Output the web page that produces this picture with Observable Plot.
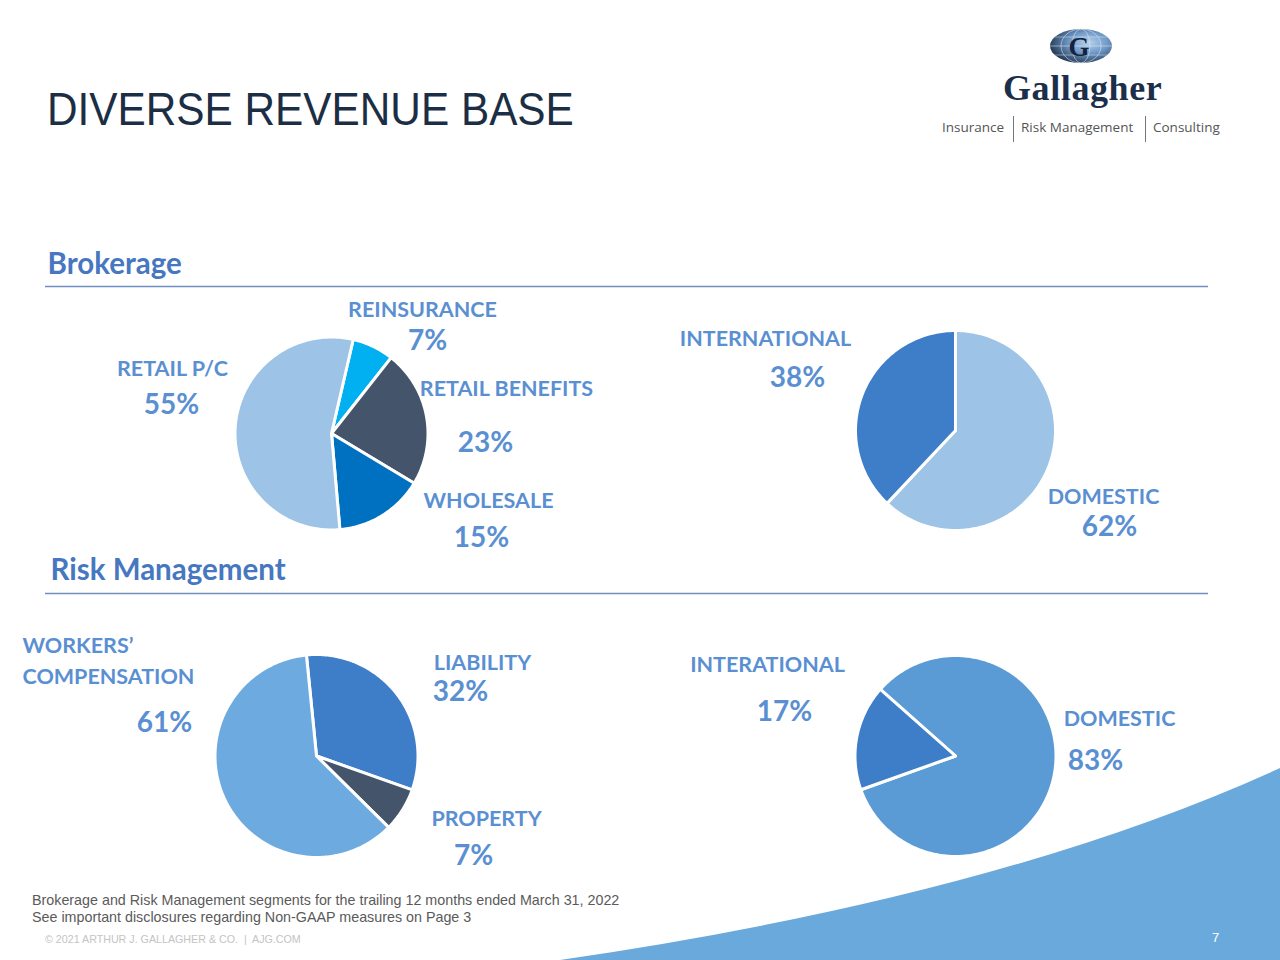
<!DOCTYPE html>
<html>
<head>
<meta charset="utf-8">
<script src="https://cdn.jsdelivr.net/npm/d3@7"></script>
<script src="https://cdn.jsdelivr.net/npm/@observablehq/plot@0.6"></script>
<style>
  html, body { margin: 0; padding: 0; background: #fff; }
  #page { position: relative; width: 1280px; height: 960px; overflow: hidden; background: #fff; }
  #swoosh { position: absolute; left: 0; top: 0; }
  #chart { position: absolute; left: 0; top: 0; }
  .title { position: absolute; left: 47px; top: 86px; font-family: "Liberation Sans", Arial, sans-serif; font-size: 46px; line-height: 1; color: #1c2e44; transform: scaleX(0.92); transform-origin: 0 0; white-space: nowrap; }
  .brand { position: absolute; left: 1003px; top: 70px; font-family: "Liberation Serif", serif; font-weight: bold; font-size: 36px; line-height: 1; color: #1b2f4b; letter-spacing: 0.6px; }
  .tagline { position: absolute; top: 121px; font-family: "Open Sans", sans-serif; font-size: 13.5px; line-height: 1; color: #555; }
  .sep { position: absolute; top: 116px; width: 1px; height: 26px; background: #777; }
  .foot { position: absolute; left: 32px; font-family: "Liberation Sans", Arial, sans-serif; font-size: 14.3px; line-height: 1; color: #5a5a5a; white-space: nowrap; }
  .copy { position: absolute; left: 45px; top: 934px; font-family: "Liberation Sans", Arial, sans-serif; font-size: 10.7px; line-height: 1; color: #c4c4c4; white-space: nowrap; }
  .pageno { position: absolute; left: 1212px; top: 931px; font-family: "Liberation Sans", Arial, sans-serif; font-size: 13px; line-height: 1; color: #fff; }
</style>
</head>
<body>
<div id="page">
  <svg id="swoosh" width="1280" height="960">
    <path d="M560,960 Q1000,896 1280,768 L1280,960 Z" fill="#6aa9dc"/>
  </svg>
  <div id="chart"></div>
  <div class="title">DIVERSE REVENUE BASE</div>
  <svg style="position:absolute;left:1048px;top:27px" width="66" height="38" viewBox="0 0 66 38">
    <defs>
      <radialGradient id="globe" cx="0.62" cy="0.4" r="0.7">
        <stop offset="0" stop-color="#b9d3ec"/>
        <stop offset="0.45" stop-color="#6e98c6"/>
        <stop offset="1" stop-color="#1a2942"/>
      </radialGradient>
    </defs>
    <ellipse cx="33" cy="19" rx="31" ry="17" fill="url(#globe)"/>
    <ellipse cx="33" cy="19" rx="20" ry="17" fill="none" stroke="#dfeaf6" stroke-width="0.8" opacity="0.7"/>
    <ellipse cx="33" cy="19" rx="9" ry="17" fill="none" stroke="#dfeaf6" stroke-width="0.8" opacity="0.7"/>
    <line x1="2" y1="19" x2="64" y2="19" stroke="#dfeaf6" stroke-width="0.8" opacity="0.7"/>
    <line x1="6" y1="10" x2="60" y2="10" stroke="#dfeaf6" stroke-width="0.8" opacity="0.6"/>
    <line x1="6" y1="28" x2="60" y2="28" stroke="#dfeaf6" stroke-width="0.8" opacity="0.6"/>
    <text x="31" y="29" text-anchor="middle" font-family="Liberation Serif, serif" font-weight="bold" font-size="27" fill="#15243c">G</text>
  </svg>
  <div class="brand">Gallagher</div>
  <div class="tagline" style="left:942px">Insurance</div>
  <div class="sep" style="left:1013px"></div>
  <div class="tagline" style="left:1021px">Risk Management</div>
  <div class="sep" style="left:1145px"></div>
  <div class="tagline" style="left:1153px">Consulting</div>
  <div class="foot" style="top:893px">Brokerage and Risk Management segments for the trailing 12 months ended March 31, 2022</div>
  <div class="foot" style="top:910px">See important disclosures regarding Non-GAAP measures on Page 3</div>
  <div class="copy">© 2021 ARTHUR J. GALLAGHER &amp; CO.&nbsp; |&nbsp; AJG.COM</div>
  <div class="pageno">7</div>
</div>
<script>
// ---- Data ----
const sectionTitles = ["Brokerage", "Risk Management"];

const brokerageLineCategories = ["REINSURANCE", "RETAIL BENEFITS", "WHOLESALE", "RETAIL P/C"];
const brokerageLineShares = [7, 23, 15, 55];

const brokerageGeoCategories = ["DOMESTIC", "INTERNATIONAL"];
const brokerageGeoShares = [62, 38];

const riskLineCategories = ["LIABILITY", "PROPERTY", "WORKERS’\nCOMPENSATION"];
const riskLineShares = [32, 7, 61];

const riskGeoCategories = ["DOMESTIC", "INTERATIONAL"];
const riskGeoShares = [83, 17];

// ---- Layout & style ----
const LABEL = "#5a8fd2";
const HEAD = "#4677c0";
const FONT = "Lato, 'Open Sans', sans-serif";

const pies = [
  { cats: brokerageLineCategories, vals: brokerageLineShares, cx: 331, cy: 433, r: 96.5, start: 13,
    colors: ["#00b0f0", "#44546a", "#0070c0", "#9dc3e6"],
    labels: [ {nx: 422, ny: 316, px: 427, py: 349}, {nx: 506, ny: 395, px: 485, py: 451},
              {nx: 488, ny: 507, px: 481, py: 546}, {nx: 172, ny: 375, px: 171, py: 413} ] },
  { cats: brokerageGeoCategories, vals: brokerageGeoShares, cx: 955, cy: 430, r: 100, start: 0,
    colors: ["#9dc3e6", "#3e7dc8"],
    labels: [ {nx: 1103, ny: 503, px: 1109, py: 535}, {nx: 765, ny: 345, px: 797, py: 386} ] },
  { cats: riskLineCategories, vals: riskLineShares, cx: 316, cy: 755.5, r: 101.5, start: -5.7,
    colors: ["#3e7dc8", "#44546a", "#6daadf"],
    labels: [ {nx: 482, ny: 669, px: 460, py: 700}, {nx: 486, ny: 825, px: 473, py: 864},
              {nx: 22, ny: 683, anchor: "start", px: 164, py: 731} ] },
  { cats: riskGeoCategories, vals: riskGeoShares, cx: 955, cy: 755.5, r: 100.5, start: -48.4,
    colors: ["#5b9bd5", "#3e7dc8"],
    labels: [ {nx: 1119, ny: 725, px: 1095, py: 769}, {nx: 767, ny: 671, px: 784, py: 720} ] }
];

const sections = [
  { title: sectionTitles[0], x: 47, y: 273, rule: 286 },
  { title: sectionTitles[1], x: 50, y: 579, rule: 593 }
];

// ---- Build slice polygons via d3.pie ----
const slicePts = [];
const nameLabels = [];
const pctLabels = [];
pies.forEach((p, pi) => {
  const rad = Math.PI / 180;
  const arcs = d3.pie().sort(null).value(d => d)
    .startAngle(p.start * rad).endAngle(p.start * rad + 2 * Math.PI)(p.vals);
  arcs.forEach((a, i) => {
    const id = `${pi}-${i}`;
    const color = p.colors[i];
    slicePts.push({id, color, x: p.cx, y: p.cy});
    const steps = Math.max(2, Math.ceil((a.endAngle - a.startAngle) / rad));
    for (let k = 0; k <= steps; k++) {
      const t = a.startAngle + (a.endAngle - a.startAngle) * k / steps;
      slicePts.push({id, color, x: p.cx + p.r * Math.sin(t), y: p.cy - p.r * Math.cos(t)});
    }
    slicePts.push({id, color, x: p.cx, y: p.cy});
    const L = p.labels[i];
    nameLabels.push({text: p.cats[i], x: L.nx, y: L.ny, anchor: L.anchor || "middle"});
    pctLabels.push({text: `${p.vals[i]}%`, x: L.px, y: L.py});
  });
});

const chart = Plot.plot({
  width: 1280,
  height: 960,
  margin: 0,
  style: { background: "transparent" },
  x: { domain: [0, 1280], range: [0, 1280], axis: null },
  y: { domain: [0, 960], range: [0, 960], axis: null },
  color: { type: "identity" },
  marks: [
    Plot.line(slicePts, { x: "x", y: "y", z: "id", fill: "color", stroke: "white", strokeWidth: 3, strokeLinejoin: "round", curve: "linear" }),
    Plot.ruleY(sections, { y: "rule", x1: 45, x2: 1208, stroke: "#6f8fc2", strokeWidth: 1.3 }),
    Plot.text(sections, { x: "x", y: "y", text: "title", textAnchor: "start", lineAnchor: "bottom", fontFamily: FONT, fontWeight: "bold", fontSize: 29.5, fill: HEAD }),
    Plot.text(nameLabels.filter(d => d.anchor === "middle"), { x: "x", y: "y", text: "text", textAnchor: "middle", lineAnchor: "bottom", fontFamily: FONT, fontWeight: "bold", fontSize: 21.5, fill: LABEL }),
    Plot.text(nameLabels.filter(d => d.anchor === "start"), { x: "x", y: "y", text: "text", textAnchor: "start", lineAnchor: "bottom", lineHeight: 1.4, fontFamily: FONT, fontWeight: "bold", fontSize: 21.5, fill: LABEL }),
    Plot.text(pctLabels, { x: "x", y: "y", text: "text", textAnchor: "middle", lineAnchor: "bottom", fontFamily: FONT, fontWeight: "bold", fontSize: 28, fill: LABEL })
  ]
});
document.getElementById("chart").appendChild(chart);
</script>
</body>
</html>
